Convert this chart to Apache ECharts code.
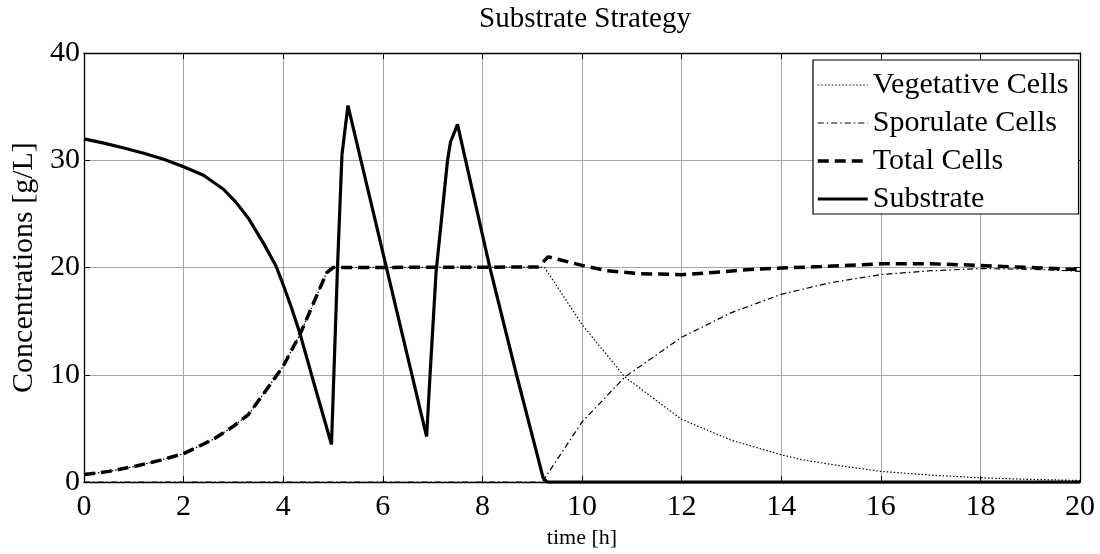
<!DOCTYPE html>
<html>
<head>
<meta charset="utf-8">
<script src="https://cdn.jsdelivr.net/npm/echarts@6/dist/echarts.min.js"></script>
<style>html,body{margin:0;padding:0;background:#fff}#c{width:1100px;height:554px}</style>
</head>
<body>
<div id="c"></div>
<script>
var titleText = 'Substrate Strategy';
var xName = 'time [h]';
var yName = 'Concentrations [g/L]';
var seriesNames = ['Vegetative Cells', 'Sporulate Cells', 'Total Cells', 'Substrate'];

var vegT = [0, 0.5, 1, 1.5, 2, 2.6, 3.0, 3.3, 3.6, 4.0, 4.34, 4.6, 4.87, 5.0, 9.12, 9.25, 10.0, 10.86, 12.0, 13.0, 14.0, 14.4, 15.0, 16.0, 17.0, 18.0, 19.0, 20.0];
var vegV = [0.7, 1.0, 1.45, 2.0, 2.65, 4.0, 5.2, 6.3, 8.2, 10.8, 13.8, 16.6, 19.5, 20.0, 20.05, 20.0, 14.7, 9.8, 5.85, 3.9, 2.55, 2.1, 1.65, 1.0, 0.65, 0.4, 0.25, 0.15];

var sporT = [0, 9.2, 10.0, 10.86, 12.0, 13.0, 14.0, 14.4, 15.0, 16.0, 17.0, 18.0, 19.0, 20.0];
var sporV = [0, 0, 5.6, 9.8, 13.5, 15.8, 17.5, 17.95, 18.6, 19.35, 19.7, 19.9, 19.85, 19.65];

var totT = [0, 0.5, 1, 1.5, 2, 2.6, 3.0, 3.3, 3.6, 4.0, 4.34, 4.6, 4.87, 5.0, 9.12, 9.32, 10.0, 10.5, 11.16, 12.0, 12.5, 13.3, 14.0, 14.8, 16.0, 17.0, 18.0, 19.0, 20.0];
var totV = [0.7, 1.0, 1.45, 2.0, 2.65, 4.0, 5.2, 6.3, 8.2, 10.8, 13.8, 16.6, 19.5, 20.0, 20.05, 21.0, 20.2, 19.7, 19.43, 19.34, 19.49, 19.8, 19.95, 20.1, 20.35, 20.35, 20.2, 20.0, 19.8];

var subT = [0, 0.4, 0.8, 1.2, 1.6, 2.0, 2.4, 2.8, 3.05, 3.3, 3.6, 3.85, 4.0, 4.17, 4.34, 4.6, 4.97, 5.09, 5.18, 5.3, 6.88, 6.95, 7.07, 7.3, 7.36, 7.5, 8.15, 8.68, 9.22, 9.3, 20];
var subV = [32.0, 31.6, 31.15, 30.65, 30.1, 29.4, 28.6, 27.3, 26.1, 24.6, 22.3, 20.2, 18.4, 16.2, 13.8, 9.5, 3.5, 20.0, 30.5, 35.1, 4.25, 10.1, 19.6, 30.0, 31.7, 33.35, 20.0, 10.1, 0.4, 0, 0];

var xTicks = {min: 0, max: 20, interval: 2};
var yTicks = {min: 0, max: 40, interval: 10};

function zip(t, v) { return t.map(function (x, i) { return [x, v[i]]; }); }

var FONT = "'Liberation Serif', 'Times New Roman', serif";
var chart = echarts.init(document.getElementById('c'), null, {renderer: 'canvas'});

function baseAxis(extra) {
  return Object.assign({
    type: 'value',
    axisLine: {show: true, onZero: false, lineStyle: {color: '#000', width: 1.3}},
    axisTick: {show: true, inside: true, length: 6, lineStyle: {color: '#000', width: 1}},
    splitLine: {show: false},
    axisLabel: {show: false}
  }, extra);
}

var styles = [
  {color: '#000', width: 1.2, type: [1.5, 2]},
  {color: '#000', width: 1.2, type: [6, 3, 1.5, 3]},
  {color: '#000', width: 3.5, type: [11, 6]},
  {color: '#000', width: 3.2, type: 'solid'}
];
var seriesT = [vegT, sporT, totT, subT];
var seriesV = [vegV, sporV, totV, subV];

chart.setOption({
  animation: false,
  backgroundColor: '#fff',
  textStyle: {fontFamily: FONT},
  title: {
    text: titleText, left: 580, textAlign: 'center', top: 0,
    textStyle: {fontFamily: FONT, fontSize: 29, fontWeight: 'normal', color: '#000'}
  },
  grid: {left: 84, right: 20, top: 53, bottom: 68, containLabel: false},
  xAxis: [
    baseAxis({
      position: 'bottom', min: xTicks.min, max: xTicks.max, interval: xTicks.interval,
      axisLabel: {show: true, color: '#000', fontSize: 30, fontFamily: FONT, margin: 10},
      splitLine: {show: true, lineStyle: {color: '#a6a6a6', width: 1}},
      name: xName, nameLocation: 'middle', nameGap: 42,
      nameTextStyle: {color: '#000', fontSize: 22, fontFamily: FONT}
    }),
    baseAxis({position: 'top', min: xTicks.min, max: xTicks.max, interval: xTicks.interval})
  ],
  yAxis: [
    baseAxis({
      position: 'left', min: yTicks.min, max: yTicks.max, interval: yTicks.interval,
      axisLabel: {show: true, color: '#000', fontSize: 30, fontFamily: FONT, margin: 4},
      splitLine: {show: true, lineStyle: {color: '#a6a6a6', width: 1}},
      name: yName, nameLocation: 'middle', nameGap: 41,
      nameTextStyle: {color: '#000', fontSize: 30, fontFamily: FONT}
    }),
    baseAxis({position: 'right', min: yTicks.min, max: yTicks.max, interval: yTicks.interval})
  ],
  legend: {
    orient: 'vertical', left: 813, top: 60, align: 'left',
    backgroundColor: '#fff', borderColor: '#000', borderWidth: 1.2,
    padding: [10, 10, 0, 3], itemGap: 8, itemWidth: 50, itemHeight: 3,
    itemStyle: {opacity: 0},
    textStyle: {fontFamily: FONT, fontSize: 30, color: '#000', lineHeight: 30},
    data: seriesNames.map(function (n, i) {
      return {name: n, lineStyle: styles[i]};
    })
  },
  series: seriesNames.map(function (n, i) {
    return {name: n, type: 'line', data: zip(seriesT[i], seriesV[i]), symbol: 'none', showSymbol: false,
      lineStyle: styles[i], itemStyle: {color: '#000'}, z: 2 + i};
  })
});
</script>
</body>
</html>
